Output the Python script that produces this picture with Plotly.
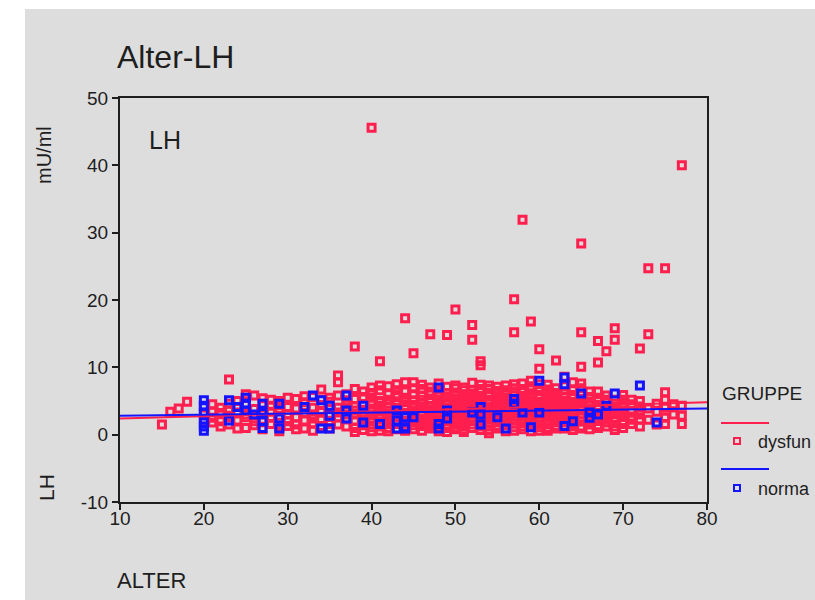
import plotly.graph_objects as go

# ---------------- data ----------------
red_ages = [15, 16, 17, 18, 20, 21, 22, 23, 24, 25, 26, 27, 28, 29, 30, 31, 32, 33, 34, 35,
            36, 37, 38, 39, 40, 41, 42, 43, 44, 45, 46, 47, 48, 49, 50, 51, 52, 53, 54, 55,
            56, 57, 58, 59, 60, 61, 62, 63, 64, 65, 66, 67, 68, 69, 70, 71, 72, 73, 74, 75,
            76, 77]
red_lh = [
    [1.5], [3.4], [3.9], [4.9],
    [3.0, 2.2, 4.2],
    [2.5, 4.5, 1.8, 3.4],
    [3.2, 2.0, 4.0, 1.2],
    [8.2, 2.8, 1.5, 3.6, 4.6],
    [2.1, 3.3, 5.0, 0.9],
    [4.4, 1.0, 2.6, 3.0, 5.5, 6.0],
    [2.0, 3.8, 1.4, 5.8, 2.9],
    [3.0, 4.6, 2.2, 0.8, 5.4],
    [5.2, 2.5, 3.4, 1.6, 4.3],
    [1.2, 3.7, 0.5, 2.8, 5.0, 4.4],
    [4.1, 2.0, 3.0, 5.5, 1.3],
    [1.5, 5.3, 2.6, 3.9, 0.8],
    [3.2, 0.9, 4.8, 2.1, 5.7],
    [2.4, 4.0, 1.7, 5.6, 3.0, 0.6],
    [6.7, 3.5, 1.3, 2.2, 4.4, 5.2],
    [4.9, 2.0, 3.1, 0.9, 5.5, 1.6, 3.8],
    [8.8, 7.8, 2.6, 4.0, 1.5, 3.3, 5.8],
    [5.1, 2.4, 3.8, 1.2, 6.0, 4.5, 3.0],
    [13.1, 4.2, 2.1, 6.8, 3.0, 5.3, 1.0, 3.6, 0.4],
    [2.8, 5.6, 1.4, 3.7, 4.5, 0.7, 6.4, 2.2, 3.2],
    [45.6, 3.4, 6.2, 2.0, 4.8, 1.1, 5.5, 2.9, 7.0, 3.9, 0.5, 2.4],
    [10.9, 3.0, 4.3, 1.8, 6.6, 2.4, 5.0, 0.6, 3.6, 7.3, 1.2, 4.8],
    [2.2, 5.2, 3.6, 1.0, 7.2, 4.1, 0.5, 6.0, 2.9, 3.1, 4.6, 1.6],
    [4.0, 2.7, 6.0, 1.6, 3.3, 5.7, 7.5, 0.8, 2.1, 4.5, 3.8, 6.6],
    [17.3, 3.1, 4.9, 2.0, 6.4, 1.2, 3.8, 5.5, 7.8, 2.6, 4.3, 0.6, 5.0],
    [12.1, 2.6, 4.4, 0.8, 3.5, 6.9, 1.9, 5.1, 7.8, 3.0, 4.0, 2.3, 6.0, 1.4],
    [3.9, 2.3, 5.8, 1.3, 4.6, 0.6, 3.0, 6.8, 2.0, 7.4, 3.4, 5.2, 1.7, 4.1],
    [14.9, 4.2, 2.8, 6.4, 1.7, 5.3, 3.5, 7.0, 0.9, 2.2, 4.8, 3.0, 6.0, 1.3],
    [3.2, 5.0, 2.0, 4.1, 6.8, 1.4, 3.7, 7.6, 0.5, 2.7, 5.9, 4.5, 3.3, 6.3, 1.0],
    [14.8, 2.5, 4.7, 1.0, 6.2, 3.3, 5.6, 2.0, 0.4, 4.0, 7.1, 3.7, 5.1, 1.5, 2.9],
    [18.6, 3.6, 5.4, 2.2, 4.3, 6.9, 1.5, 3.0, 7.3, 0.8, 2.6, 5.0, 4.7, 3.9, 1.1, 6.2],
    [2.8, 4.9, 1.3, 6.0, 3.4, 5.2, 0.8, 2.3, 4.1, 7.0, 1.9, 3.8, 5.6, 2.7, 6.6, 0.4],
    [16.3, 14.1, 3.7, 5.9, 2.1, 4.5, 1.0, 6.6, 3.0, 7.7, 2.5, 5.2, 4.1, 3.4, 1.5, 6.1],
    [10.9, 10.3, 2.6, 4.8, 1.6, 6.3, 3.4, 5.5, 0.7, 7.4, 4.0, 2.1, 3.0, 5.0, 1.2, 6.8],
    [4.0, 2.2, 5.7, 1.2, 3.5, 6.8, 0.2, 2.9, 4.7, 1.7, 6.2, 3.1, 4.2, 5.2, 2.5, 7.3, 0.7],
    [3.3, 5.1, 1.8, 4.4, 6.5, 2.5, 7.1, 0.9, 3.9, 5.7, 1.3, 4.8, 3.0, 2.0, 6.1],
    [2.7, 4.6, 1.4, 6.0, 3.6, 5.4, 0.5, 7.3, 2.1, 4.1, 3.1, 5.0, 3.3, 1.8, 6.6, 2.4],
    [20.1, 15.2, 3.8, 5.8, 2.3, 4.9, 1.1, 6.9, 3.1, 1.7, 4.4, 0.6, 3.5, 5.3, 2.7, 6.3, 7.5],
    [31.9, 2.9, 4.3, 1.7, 6.3, 3.6, 5.1, 0.8, 7.6, 2.3, 4.8, 1.2, 3.2, 5.6, 2.0, 6.8, 4.0],
    [16.8, 3.4, 5.5, 2.0, 4.7, 6.7, 1.2, 3.0, 8.0, 2.6, 5.9, 3.8, 5.1, 1.6, 4.2, 7.2, 0.5],
    [12.7, 9.8, 4.1, 2.5, 5.9, 1.5, 3.3, 6.8, 0.6, 4.9, 2.0, 3.7, 4.4, 3.0, 5.4, 1.1, 7.5],
    [2.8, 4.6, 1.0, 6.2, 3.7, 5.3, 2.1, 7.4, 1.5, 4.1, 3.3, 5.8, 2.5, 0.6, 6.7],
    [11.0, 3.5, 5.6, 1.8, 4.2, 6.9, 2.6, 0.9, 3.0, 5.0, 4.6, 2.2, 3.9, 1.3, 6.2],
    [4.4, 2.3, 6.1, 3.2, 1.3, 5.0, 8.6, 3.9, 1.8, 7.2, 3.5, 2.7, 4.8, 0.9, 5.6],
    [3.0, 5.4, 1.6, 4.0, 6.6, 2.4, 0.7, 3.5, 7.8, 4.5, 2.0, 3.0, 5.9, 1.2],
    [28.4, 15.2, 10.1, 3.7, 5.9, 2.0, 4.6, 1.2, 6.9, 3.0, 4.1, 2.5, 5.3, 0.9, 7.6],
    [2.9, 4.3, 1.5, 5.6, 3.4, 0.8, 2.2, 3.8, 2.6, 4.9, 6.4],
    [13.9, 10.7, 3.8, 2.2, 5.0, 1.4, 6.4, 3.0, 4.3, 2.6, 1.0, 5.5],
    [12.4, 3.2, 4.9, 1.8, 2.6, 5.8, 4.0, 3.6, 1.2, 2.2, 5.2],
    [15.8, 14.1, 4.0, 2.5, 1.2, 3.3, 5.2, 2.0, 4.6, 3.7, 0.7],
    [3.6, 2.0, 5.2, 1.0, 4.4, 2.8, 3.2, 5.9, 1.6],
    [2.7, 4.5, 1.6, 3.5, 5.2, 2.2],
    [12.8, 3.0, 5.0, 1.2, 2.2, 4.2, 3.6],
    [24.7, 14.9, 2.2, 3.9],
    [3.4, 1.5, 4.6],
    [24.7, 6.3, 4.0, 2.5, 5.2, 1.6],
    [3.0, 4.5],
    [40.0, 4.3, 2.8, 1.6],
]

blue_ages = [20, 23, 24, 25, 26, 27, 29, 32, 33, 34, 35, 37, 39, 41, 43, 44, 45, 48, 49, 52,
             53, 55, 56, 57, 58, 59, 60, 63, 64, 65, 66, 67, 68, 69, 72, 74]
blue_lh = [
    [5.1, 4.3, 3.3, 1.8, 1.2, 0.6],
    [5.1, 2.1], [4.1], [5.5, 4.6, 3.6], [3.0],
    [4.6, 3.2, 2.0, 1.0],
    [4.6, 2.4, 0.9], [4.1], [5.8], [5.1, 0.9],
    [4.3, 2.8, 0.9], [5.8, 3.6, 2.4], [4.3, 1.8], [1.6],
    [3.6, 2.1, 0.9], [2.6, 1.1, 0.9], [2.6],
    [7.0, 1.6, 0.9], [3.6, 2.4], [3.3], [4.1, 3.0, 1.5],
    [2.6], [0.9], [5.3, 4.6], [3.3], [1.1], [8.0, 3.3],
    [8.5, 7.5, 1.3], [2.0], [6.1], [3.3, 2.5], [3.0], [4.3], [6.1], [7.3], [1.8],
]

fit_x = [10, 80]
red_fit = [2.4, 4.8]
blue_fit = [2.8, 3.9]

x_ticks = [10, 20, 30, 40, 50, 60, 70, 80]
y_ticks = [-10, 0, 10, 20, 30, 40, 50]
y_tick_text = ["-10", "0", "10", "20", "30", "40", "50"]

# -------------- build --------------
RED = "#ff1f4e"
BLUE = "#1414ff"
GREY = "#dddddd"
INK = "#1e1e1e"

rx = [a for a, vals in zip(red_ages, red_lh) for _ in vals]
ry = [v for vals in red_lh for v in vals]
bx = [a for a, vals in zip(blue_ages, blue_lh) for _ in vals]
by = [v for vals in blue_lh for v in vals]

fig = go.Figure()
fig.add_trace(go.Scatter(x=rx, y=ry, mode="markers",
                         marker=dict(symbol="square-open", size=7, color=RED,
                                     line=dict(width=3, color=RED)),
                         showlegend=False))
fig.add_trace(go.Scatter(x=bx, y=by, mode="markers",
                         marker=dict(symbol="square-open", size=7, color=BLUE,
                                     line=dict(width=3, color=BLUE)),
                         showlegend=False))
fig.add_trace(go.Scatter(x=fit_x, y=red_fit, mode="lines",
                         line=dict(color=RED, width=2), showlegend=False))
fig.add_trace(go.Scatter(x=fit_x, y=blue_fit, mode="lines",
                         line=dict(color=BLUE, width=2), showlegend=False))

W, H = 815, 600
# plot-area edges in pixels
L, R, T, B = 120, 707, 98, 502


def px(xs):
    return (xs - L) / (R - L)


def py(ys):
    return (B - ys) / (B - T)


font = "Liberation Sans, Arial, sans-serif"


def txt(s, x, y, size, xa="left", angle=0):
    return dict(text=s, x=px(x), y=py(y), xref="paper", yref="paper",
                xanchor=xa, yanchor="middle", showarrow=False, textangle=angle,
                font=dict(family=font, size=size, color=INK))


annotations = [
    txt("Alter-LH", 115, 57, 32),
    txt("LH", 147, 140, 25),
    txt("mU/ml", 44, 155, 20, xa="center", angle=-90),
    txt("LH", 46, 488, 21, xa="center", angle=-90),
    txt("ALTER", 115, 580, 22),
    txt("GRUPPE", 720, 393, 19),
    txt("dysfun", 756, 442, 18),
    txt("norma", 756, 489, 18),
]

shapes = [
    # white page margin strips
    dict(type="rect", xref="paper", yref="paper", x0=px(-10), x1=px(25), y0=py(620), y1=py(-10),
         fillcolor="white", line=dict(width=0), layer="above"),
    dict(type="rect", xref="paper", yref="paper", x0=px(-10), x1=px(830), y0=py(9), y1=py(-10),
         fillcolor="white", line=dict(width=0), layer="above"),
    # legend keys
    dict(type="line", xref="paper", yref="paper", x0=px(721), x1=px(769), y0=py(423), y1=py(423),
         line=dict(color=RED, width=2)),
    dict(type="rect", xref="paper", yref="paper", x0=px(734), x1=px(740), y0=py(444), y1=py(438),
         line=dict(color=RED, width=2)),
    dict(type="line", xref="paper", yref="paper", x0=px(721), x1=px(769), y0=py(469), y1=py(469),
         line=dict(color=BLUE, width=2)),
    dict(type="rect", xref="paper", yref="paper", x0=px(734), x1=px(740), y0=py(491), y1=py(485),
         line=dict(color=BLUE, width=2)),
]

axis_common = dict(showgrid=False, zeroline=False, showline=True, linecolor=INK, linewidth=2,
                   mirror=True, ticks="outside", ticklen=6, tickwidth=2, tickcolor=INK,
                   tickfont=dict(family=font, size=19, color=INK))

fig.update_layout(
    width=W, height=H,
    margin=dict(l=L, r=W - R, t=T, b=H - B, pad=0),
    paper_bgcolor=GREY, plot_bgcolor=GREY,
    xaxis=dict(range=[10, 80], tickvals=x_ticks, ticklabelstandoff=-8, **axis_common),
    yaxis=dict(range=[-10, 50], tickvals=y_ticks, ticktext=y_tick_text, **axis_common),
    annotations=annotations, shapes=shapes,
)

fig.write_html("out.html", config={"displayModeBar": False},
               post_script="document.body.style.margin='0px';")
